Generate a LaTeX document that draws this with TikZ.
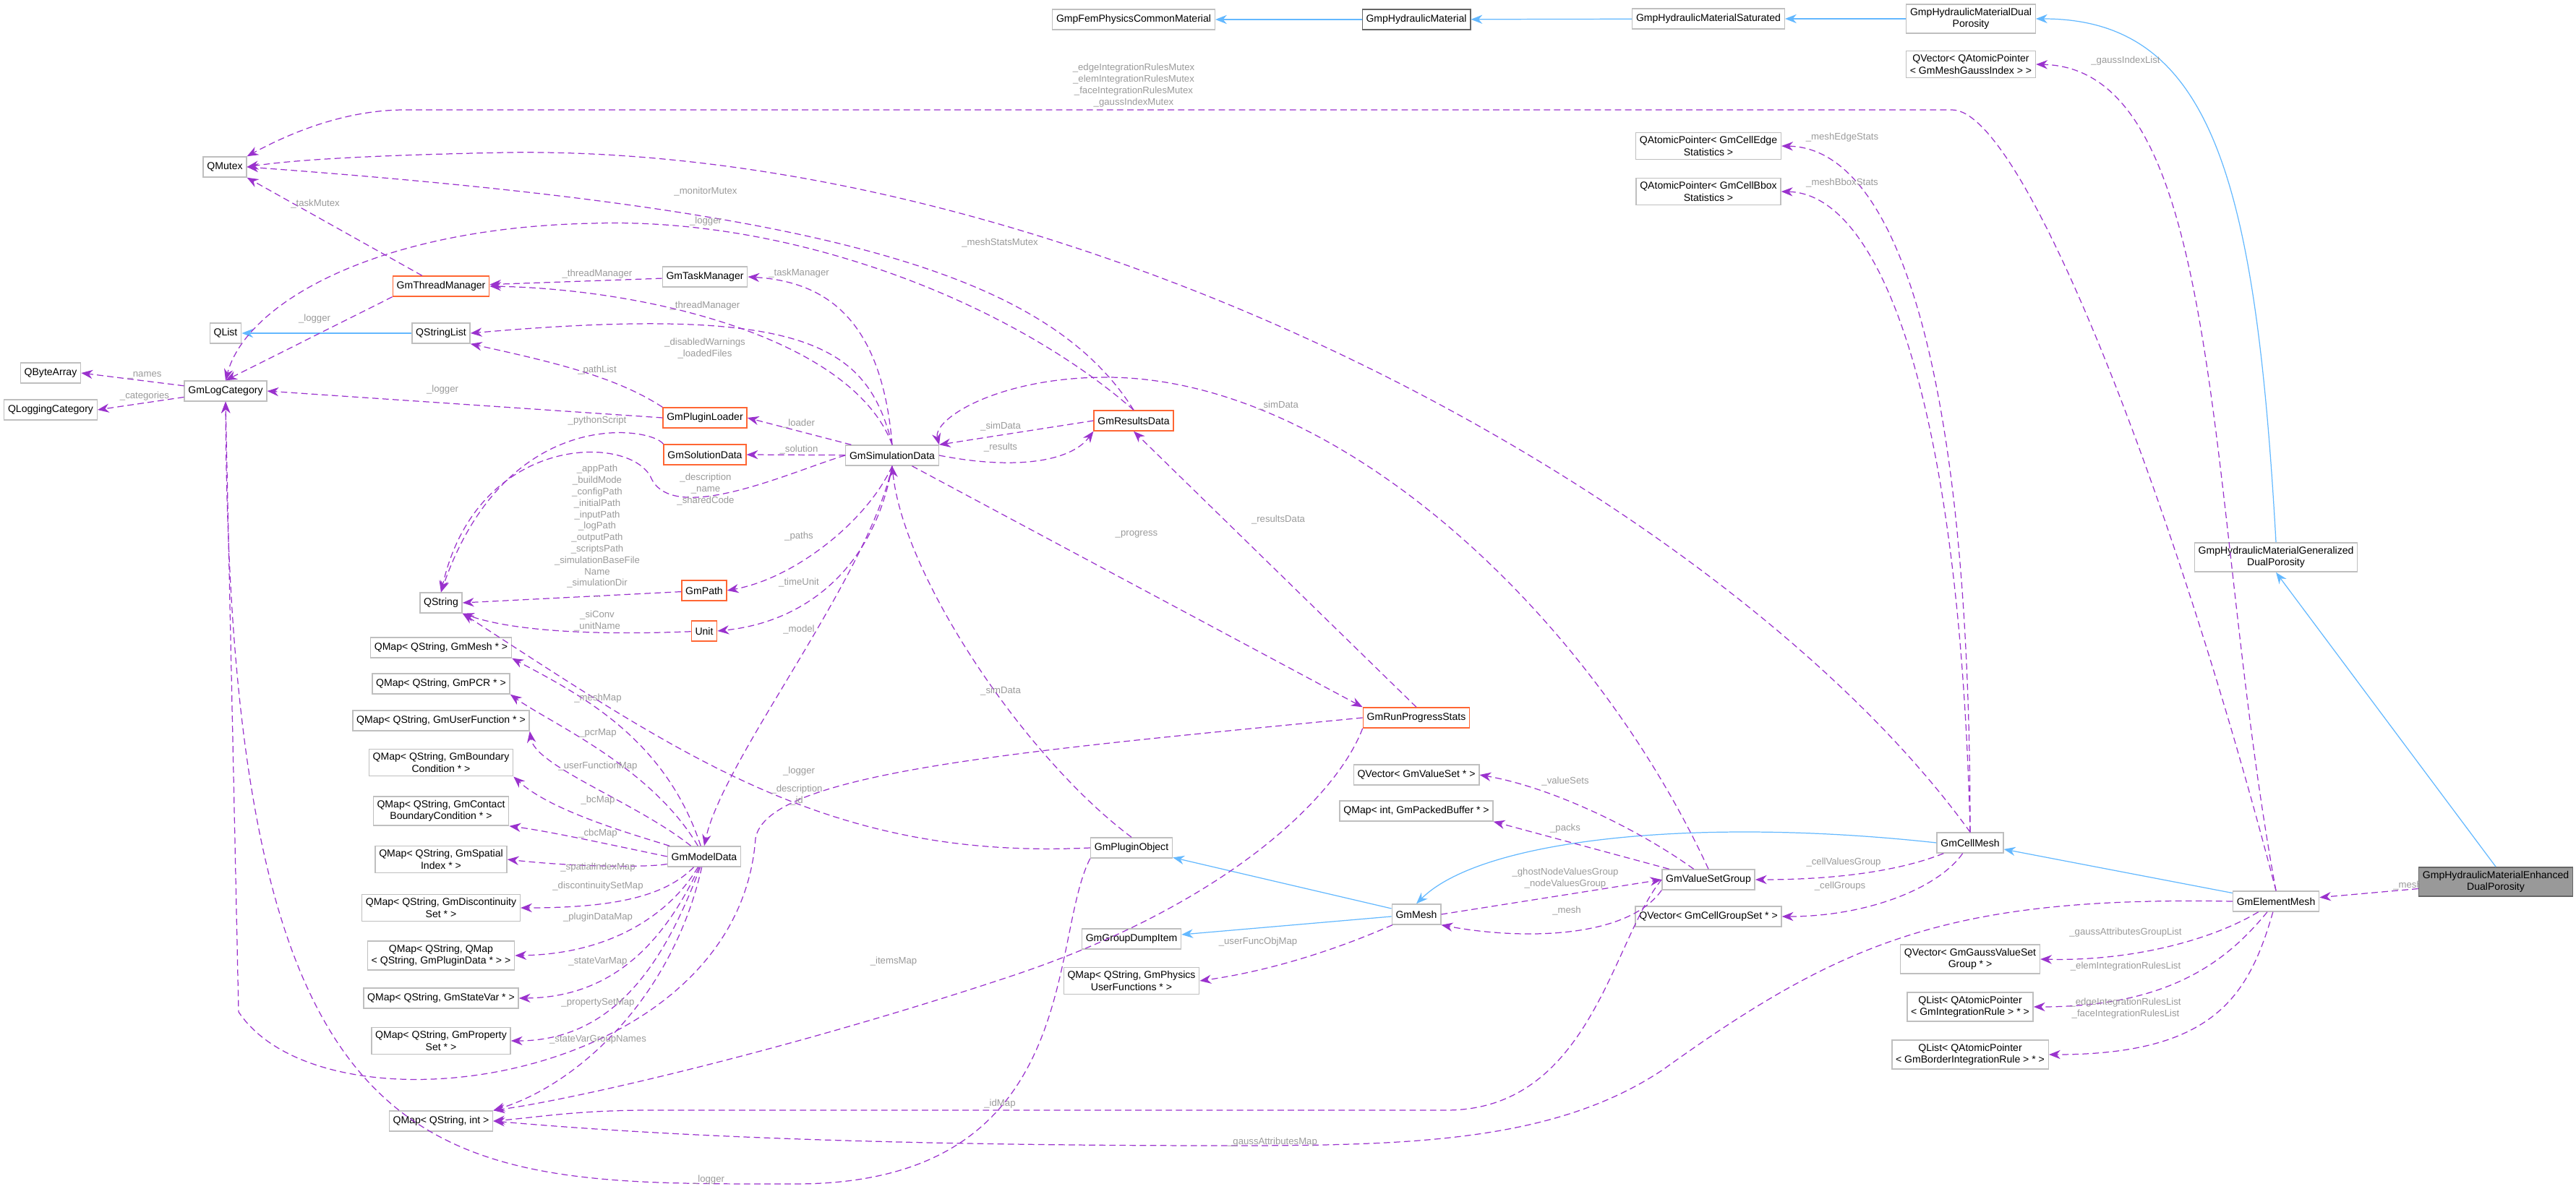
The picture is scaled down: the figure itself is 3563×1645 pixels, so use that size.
\documentclass[tikz,border=0pt]{standalone}
\usepackage{fontspec}
\setmainfont{Liberation Sans}
\usepackage{tikz}
\usetikzlibrary{arrows.meta,positioning}

\definecolor{edgeviolet}{HTML}{9A32CD}
\definecolor{inhblue}{HTML}{63B8FF}
\definecolor{lblgray}{HTML}{9A9A9A}
\definecolor{boxgray}{HTML}{BFBFBF}
\definecolor{hotorange}{HTML}{FF6633}

\begin{document}
\begin{tikzpicture}[x=0.02cm,y=-0.02cm]
	\tikzstyle{Box}	= [rectangle, draw=boxgray, fill=white, line width=0.8pt, font=\fontsize{8}{9.5}\selectfont, inner sep=3pt, minimum height=0.56cm, align=center]
	\tikzstyle{Hot}	= [Box, draw=hotorange]
	\tikzstyle{Base}	= [Box, draw=black!60]
	\tikzstyle{Root}	= [Box, draw=black!60, fill=black!40]
	\tikzstyle{Use}	= [dashed, dash pattern=on 5pt off 3pt, edgeviolet, line width=0.7pt, -{Stealth[length=9pt,width=7pt]}]
	\tikzstyle{Inh}	= [inhblue, line width=0.7pt, -{Stealth[length=9pt,width=7pt]}]
	\tikzstyle{Lbl}	= [text=lblgray, font=\fontsize{7.5}{9}\selectfont, align=center, inner sep=1pt]

	\useasboundingbox (0,0) rectangle (3563,1645);

	% classes, top rows
	\node (fem) at (1568,27) [Box] {GmpFemPhysicsCommonMaterial};
	\node (hyd) at (1959,27) [Base] {GmpHydraulicMaterial};
	\node (sat) at (2363,26) [Box] {GmpHydraulicMaterialSaturated};
	\node (dual) at (2726,26) [Box] {GmpHydraulicMaterialDual\\Porosity};
	\node (gaussidx) at (2726,89) [Box] {QVector< QAtomicPointer\\< GmMeshGaussIndex > >};
	\node (edgestat) at (2363,202) [Box] {QAtomicPointer< GmCellEdge\\Statistics >};
	\node (bboxstat) at (2363,265) [Box] {QAtomicPointer< GmCellBbox\\Statistics >};

	% left side
	\node (mutex) at (311,231) [Box] {QMutex};
	\node (thread) at (610,396) [Hot] {GmThreadManager};
	\node (task) at (975,383) [Box] {GmTaskManager};
	\node (qlist) at (312,461) [Box] {QList};
	\node (strlist) at (610,461) [Box] {QStringList};
	\node (bytearr) at (70,516) [Box] {QByteArray};
	\node (logcat) at (312,541) [Box] {GmLogCategory};
	\node (logging) at (70,567) [Box] {QLoggingCategory};
	\node (loader) at (975,578) [Hot] {GmPluginLoader};
	\node (solution) at (975,629) [Hot] {GmSolutionData};
	\node (simdata) at (1234,630) [Box] {GmSimulationData};
	\node (results) at (1568,582) [Hot] {GmResultsData};
	\node (qstring) at (610,834) [Box] {QString};
	\node (path) at (974,817) [Hot] {GmPath};
	\node (unit) at (974,873) [Hot] {Unit};

	% maps of the model
	\node (mmesh) at (610,896) [Box] {QMap< QString, GmMesh * >};
	\node (mpcr) at (610,946) [Box] {QMap< QString, GmPCR * >};
	\node (muf) at (610,997) [Box] {QMap< QString, GmUserFunction * >};
	\node (mbc) at (610,1055) [Box] {QMap< QString, GmBoundary\\Condition * >};
	\node (mcbc) at (610,1122) [Box] {QMap< QString, GmContact\\BoundaryCondition * >};
	\node (mspat) at (610,1189) [Box] {QMap< QString, GmSpatial\\Index * >};
	\node (mdisc) at (610,1256) [Box] {QMap< QString, GmDiscontinuity\\Set * >};
	\node (mqmap) at (610,1322) [Box] {QMap< QString, QMap\\< QString, GmPluginData * > >};
	\node (msv) at (610,1381) [Box] {QMap< QString, GmStateVar * >};
	\node (mprop) at (610,1440) [Box] {QMap< QString, GmProperty\\Set * >};
	\node (mint) at (610,1551) [Box] {QMap< QString, int >};
	\node (model) at (974,1185) [Box] {GmModelData};

	% middle and right
	\node (plugobj) at (1565,1173) [Box] {GmPluginObject};
	\node (dump) at (1565,1299) [Box] {GmGroupDumpItem};
	\node (mphys) at (1565,1357) [Box] {QMap< QString, GmPhysics\\UserFunctions * >};
	\node (progress) at (1959,993) [Hot] {GmRunProgressStats};
	\node (mvs) at (1959,1072) [Box] {QVector< GmValueSet * >};
	\node (mpack) at (1959,1122) [Box] {QMap< int, GmPackedBuffer * >};
	\node (mesh) at (1959,1265) [Box] {GmMesh};
	\node (vsg) at (2363,1217) [Box] {GmValueSetGroup};
	\node (mcgs) at (2363,1268) [Box] {QVector< GmCellGroupSet * >};
	\node (cellmesh) at (2725,1166) [Box] {GmCellMesh};
	\node (mgvs) at (2725,1327) [Box] {QVector< GmGaussValueSet\\Group * >};
	\node (mir) at (2725,1393) [Box] {QList< QAtomicPointer\\< GmIntegrationRule > * >};
	\node (mbir) at (2725,1459) [Box] {QList< QAtomicPointer\\< GmBorderIntegrationRule > * >};
	\node (elemmesh) at (3148,1247) [Box] {GmElementMesh};
	\node (gen) at (3148,771) [Box] {GmpHydraulicMaterialGeneralized\\DualPorosity};
	\node (enh) at (3452,1220) [Root] {GmpHydraulicMaterialEnhanced\\DualPorosity};

	% inheritance
	\draw [Inh] (hyd) -- (fem);
	\draw [Inh] (sat) -- (hyd);
	\draw [Inh] (dual) -- (sat);
	\draw [Inh] (gen.north) .. controls (3120,250) and (3060,26) .. (dual.east);
	\draw [Inh] (enh.north) -- (gen.south);
	\draw [Inh] (elemmesh) -- (cellmesh);
	\draw [Inh] (cellmesh.west) .. controls (2350,1130) and (2050,1160) .. (mesh.north);
	\draw [Inh] (mesh) -- (plugobj);
	\draw [Inh] (mesh) -- (dump);
	\draw [Inh] (strlist) -- (qlist);

	% members of the element mesh
	\draw [Use] (enh) -- (elemmesh);
	\draw [Use] (elemmesh.north) .. controls (3050,700) and (3080,95) .. (gaussidx.east);
	\draw [Use] (elemmesh.north) .. controls (3010,700) and (2800,152) .. (2700,152) -- (560,152) .. controls (470,152) and (390,190) .. (mutex.north east);
	\draw [Use] (elemmesh) .. controls (3060,1300) and (2950,1330) .. (mgvs.east);
	\draw [Use] (elemmesh) .. controls (3080,1330) and (3000,1393) .. (mir.east);
	\draw [Use] (elemmesh) .. controls (3110,1380) and (3060,1459) .. (mbir.east);
	\draw [Use] (elemmesh.west) .. controls (2700,1240) and (2550,1300) .. (2300,1480) .. controls (2150,1580) and (1950,1585) .. (1700,1585) .. controls (1200,1585) and (900,1570) .. (mint.east);

	% members of the cell mesh and meshes
	\draw [Use] (cellmesh.north) .. controls (2400,700) and (1500,200) .. (700,211) .. controls (500,215) and (400,222) .. (mutex.east);
	\draw [Use] (cellmesh.north) .. controls (2725,500) and (2620,205) .. (edgestat.east);
	\draw [Use] (cellmesh.north) .. controls (2710,550) and (2600,268) .. (bboxstat.east);
	\draw [Use] (cellmesh) .. controls (2640,1200) and (2560,1217) .. (vsg.east);
	\draw [Use] (cellmesh) .. controls (2680,1230) and (2580,1268) .. (mcgs.east);
	\draw [Use] (vsg) .. controls (2270,1150) and (2150,1090) .. (mvs.east);
	\draw [Use] (vsg) -- (mpack.south east);
	\draw [Use] (vsg.south west) .. controls (2250,1300) and (2100,1300) .. (mesh.south east);
	\draw [Use] (mesh.east) -- (vsg.west);
	\draw [Use] (vsg.west) .. controls (2230,1300) and (2200,1536) .. (2000,1536) -- (900,1536) .. controls (800,1536) and (750,1545) .. (mint.east);
	\draw [Use] (mesh) .. controls (1880,1300) and (1780,1340) .. (mphys.east);
	\draw [Use] (vsg.north) .. controls (2200,850) and (1850,522) .. (1530,522) .. controls (1380,522) and (1290,580) .. (simdata.north east);

	% run progress and results
	\draw [Use] (progress.north) -- (results.south);
	\draw [Use] (simdata) -- (progress.north west);
	\draw [Use] (progress.south west) .. controls (1850,1100) and (1700,1250) .. (1400,1350) .. controls (1100,1450) and (800,1520) .. (mint.north east);
	\draw [Use] (progress.west) .. controls (1400,1040) and (1060,1070) .. (1045,1160) .. controls (1020,1500) and (450,1580) .. (330,1400) -- (logcat.south);
	\draw [Use] (results.north) .. controls (1400,420) and (1100,300) .. (820,309) .. controls (520,315) and (340,420) .. (logcat.north);
	\draw [Use] (results.north) .. controls (1450,380) and (1150,290) .. (mutex.east);
	\draw [Use] (results.west) -- (simdata.north east);
	\draw [Use] (simdata.east) .. controls (1400,650) and (1480,640) .. (results.south west);

	% plugin object
	\draw [Use] (plugobj.south west) .. controls (1450,1300) and (1500,1638) .. (1100,1638) .. controls (600,1638) and (318,1650) .. (logcat.south);
	\draw [Use] (plugobj.west) .. controls (1150,1190) and (950,1050) .. (qstring.south east);
	\draw [Use] (plugobj.north) .. controls (1420,1050) and (1250,800) .. (simdata.south);

	% simulation data
	\draw [Use] (simdata.south) .. controls (1200,800) and (1000,1050) .. (model.north);
	\draw [Use] (simdata.south) .. controls (1210,780) and (1120,860) .. (unit.east);
	\draw [Use] (simdata.south) .. controls (1200,720) and (1100,800) .. (path.east);
	\draw [Use] (simdata) -- (loader.east);
	\draw [Use] (simdata) -- (solution.east);
	\draw [Use] (simdata.west) .. controls (1100,650) and (930,730) .. (900,660) .. controls (870,600) and (660,600) .. (qstring.north);
	\draw [Use] (simdata.north) .. controls (1200,480) and (1120,420) .. (strlist.east);
	\draw [Use] (simdata.north) .. controls (1180,470) and (900,400) .. (thread.east);
	\draw [Use] (simdata.north) .. controls (1220,450) and (1150,390) .. (task.east);
	\draw [Use] (solution.north west) .. controls (900,590) and (700,560) .. (qstring.north);
	\draw [Use] (path) -- (qstring.east);
	\draw [Use] (unit) .. controls (800,880) and (700,870) .. (qstring.south east);
	\draw [Use] (loader.north west) .. controls (850,520) and (760,500) .. (strlist.south east);
	\draw [Use] (loader.west) -- (logcat.east);
	\draw [Use] (task) -- (thread);
	\draw [Use] (thread) -- (mutex.south east);
	\draw [Use] (thread.south west) -- (logcat.north);
	\draw [Use] (logcat) -- (bytearr.east);
	\draw [Use] (logcat) -- (logging.east);

	% model data maps
	\draw [Use] (model) .. controls (920,1020) and (800,960) .. (mmesh.south east);
	\draw [Use] (model) .. controls (900,1060) and (760,1000) .. (mpcr.south east);
	\draw [Use] (model) .. controls (880,1110) and (740,1060) .. (muf.south east);
	\draw [Use] (model) .. controls (860,1150) and (760,1120) .. (mbc.south east);
	\draw [Use] (model.west) .. controls (850,1170) and (760,1150) .. (mcbc.south east);
	\draw [Use] (model) .. controls (900,1200) and (800,1200) .. (mspat.east);
	\draw [Use] (model) .. controls (920,1240) and (850,1256) .. (mdisc.east);
	\draw [Use] (model) .. controls (930,1260) and (850,1320) .. (mqmap.east);
	\draw [Use] (model) .. controls (920,1300) and (850,1380) .. (msv.east);
	\draw [Use] (model) .. controls (920,1330) and (850,1440) .. (mprop.east);
	\draw [Use] (model) .. controls (930,1380) and (800,1500) .. (mint.north east);

	% connector labels
	\node (l-mesh) at (3330,1225) [Lbl] {\_mesh};
	\node (l-gidx) at (2940,84) [Lbl] {\_gaussIndexList};
	\node (l-imutex) at (1568,118) [Lbl] {\_edgeIntegrationRulesMutex\\\_elemIntegrationRulesMutex\\\_faceIntegrationRulesMutex\\\_gaussIndexMutex};
	\node (l-gag) at (2940,1290) [Lbl] {\_gaussAttributesGroupList};
	\node (l-eir) at (2940,1337) [Lbl] {\_elemIntegrationRulesList};
	\node (l-bir) at (2940,1395) [Lbl] {\_edgeIntegrationRulesList\\\_faceIntegrationRulesList};
	\node (l-gam) at (1760,1580) [Lbl] {\_gaussAttributesMap};
	\node (l-msm) at (1383,336) [Lbl] {\_meshStatsMutex};
	\node (l-mes) at (2548,190) [Lbl] {\_meshEdgeStats};
	\node (l-mbs) at (2548,253) [Lbl] {\_meshBboxStats};
	\node (l-cvg) at (2550,1193) [Lbl] {\_cellValuesGroup};
	\node (l-cg) at (2545,1226) [Lbl] {\_cellGroups};
	\node (l-vs) at (2165,1081) [Lbl] {\_valueSets};
	\node (l-pk) at (2165,1146) [Lbl] {\_packs};
	\node (l-vmesh) at (2167,1260) [Lbl] {\_mesh};
	\node (l-nvg) at (2165,1215) [Lbl] {\_ghostNodeValuesGroup\\\_nodeValuesGroup};
	\node (l-idm) at (1383,1527) [Lbl] {\_idMap};
	\node (l-ufo) at (1740,1303) [Lbl] {\_userFuncObjMap};
	\node (l-vsd) at (1768,561) [Lbl] {\_simData};
	\node (l-rd) at (1768,719) [Lbl] {\_resultsData};
	\node (l-prog) at (1572,739) [Lbl] {\_progress};
	\node (l-items) at (1236,1330) [Lbl] {\_itemsMap};
	\node (l-plog) at (1105,1067) [Lbl] {\_logger};
	\node (l-rlog) at (976,306) [Lbl] {\_logger};
	\node (l-mon) at (976,265) [Lbl] {\_monitorMutex};
	\node (l-rsd) at (1384,590) [Lbl] {\_simData};
	\node (l-res) at (1384,619) [Lbl] {\_results};
	\node (l-olog) at (980,1632) [Lbl] {\_logger};
	\node (l-desc) at (1102,1100) [Lbl] {\_description\\\_id};
	\node (l-osd) at (1384,956) [Lbl] {\_simData};
	\node (l-model) at (1105,871) [Lbl] {\_model};
	\node (l-tu) at (1105,806) [Lbl] {\_timeUnit};
	\node (l-paths) at (1105,742) [Lbl] {\_paths};
	\node (l-load) at (1105,586) [Lbl] {\_loader};
	\node (l-sol) at (1105,622) [Lbl] {\_solution};
	\node (l-dns) at (976,677) [Lbl] {\_description\\\_name\\\_sharedCode};
	\node (l-py) at (826,582) [Lbl] {\_pythonScript};
	\node (l-pths) at (826,735) [Lbl] {\_appPath\\\_buildMode\\\_configPath\\\_initialPath\\\_inputPath\\\_logPath\\\_outputPath\\\_scriptsPath\\\_simulationBaseFile\\Name\\\_simulationDir\\...};
	\node (l-unit) at (826,859) [Lbl] {\_siConv\\\_unitName};
	\node (l-pl) at (826,512) [Lbl] {\_pathList};
	\node (l-llog) at (612,539) [Lbl] {\_logger};
	\node (l-dw) at (975,482) [Lbl] {\_disabledWarnings\\\_loadedFiles};
	\node (l-stm) at (975,423) [Lbl] {\_threadManager};
	\node (l-ttm) at (826,379) [Lbl] {\_threadManager};
	\node (l-tm) at (1105,378) [Lbl] {\_taskManager};
	\node (l-tmx) at (436,282) [Lbl] {\_taskMutex};
	\node (l-tlog) at (435,441) [Lbl] {\_logger};
	\node (l-nm) at (200,519) [Lbl] {\_names};
	\node (l-cat) at (200,548) [Lbl] {\_categories};
	\node (l-mm) at (827,966) [Lbl] {\_meshMap};
	\node (l-pcr) at (827,1014) [Lbl] {\_pcrMap};
	\node (l-uf) at (827,1060) [Lbl] {\_userFunctionMap};
	\node (l-bc) at (827,1107) [Lbl] {\_bcMap};
	\node (l-cbc) at (827,1153) [Lbl] {\_cbcMap};
	\node (l-sp) at (827,1200) [Lbl] {\_spatialIndexMap};
	\node (l-ds) at (827,1226) [Lbl] {\_discontinuitySetMap};
	\node (l-pd) at (827,1269) [Lbl] {\_pluginDataMap};
	\node (l-sv) at (827,1330) [Lbl] {\_stateVarMap};
	\node (l-ps) at (827,1387) [Lbl] {\_propertySetMap};
	\node (l-svg) at (827,1438) [Lbl] {\_stateVarGroupNames};
\end{tikzpicture}
\end{document}
